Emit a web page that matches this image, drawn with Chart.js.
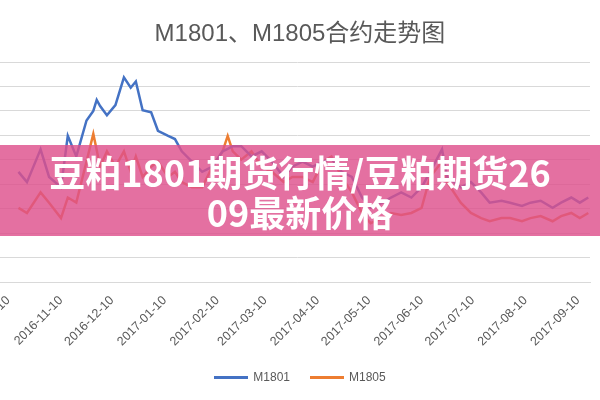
<!DOCTYPE html>
<html><head><meta charset="utf-8">
<script src="https://cdn.jsdelivr.net/npm/chart.js@4"></script>
<style>
body{margin:0;background:#fff;font-family:"Noto Sans CJK SC",sans-serif;overflow:hidden}
#wrap{position:relative;width:600px;height:400px;overflow:hidden}
#c{position:absolute;left:-40px;top:0}
#title{position:absolute;left:0;top:13px;width:600px;text-align:center;color:#595959;font-size:24px;font-family:"Liberation Sans","Noto Sans CJK SC",sans-serif}
#legend{position:absolute;left:0;top:370px;width:600px;text-align:center;color:#595959;font-size:12px;font-family:"Liberation Sans",sans-serif}
#legend span{display:inline-block;margin:0 10px}
#legend i{display:inline-block;width:34px;height:3px;vertical-align:middle;margin-right:5px}
#banner{position:absolute;left:0;top:145px;width:600px;height:91px;background:rgba(222,80,140,0.82);color:#fff;font-weight:bold;font-size:36px;line-height:40px;text-align:center;padding-top:6px;box-sizing:border-box;white-space:nowrap}
</style></head><body>
<div id="wrap"><canvas id="c" width="680" height="400"></canvas>
<div id="title">M1801、M1805合约走势图</div>
<div id="legend"></div>
<div id="banner">豆粕1801期货行情/豆粕期货26<br>09最新价格</div></div>
<script>
// days since 2016-10-10
const days = [6,11,19,24,31,35,40,46,50,52,54,58,63,68,72,75,79,84,88,94,98,102,108,114,120,126,129,132,137,143,149,155,162,167,173,179,185,190,196,202,208,213,220,225,231,237,243,248,255,258,266,272,278,283,290,295,302,307,313,320,325,331,336,341];
const m1801 = [2951,2909,3043,2930,2888,3098,3014,3161,3200,3245,3220,3182,3224,3337,3295,3320,3203,3194,3119,3098,3085,3035,2993,2951,2972,3035,3045,3056,3056,3014,3035,2993,2930,2972,2993,2972,2993,3005,2951,2930,2846,2804,2825,2846,2867,2846,2888,2951,3043,2930,2888,2909,2867,2825,2833,2825,2812,2825,2833,2804,2825,2846,2825,2846];
const m1805 = [2804,2783,2867,2825,2762,2846,2825,2993,3106,3040,2972,3035,2972,3035,2951,3014,2930,2972,2993,2930,2951,2909,2888,2888,2972,3035,3098,3035,3001,3035,2972,2951,2909,2930,2930,2909,2993,3014,2930,2867,2783,2741,2762,2783,2775,2783,2804,2930,2993,2909,2825,2783,2762,2749,2762,2762,2749,2762,2770,2749,2770,2783,2762,2783];
const tickDays = [0,31,61,92,123,151,182,212,243,273,304,335];
const base = new Date(2016,9,10);
function fmt(d){const t=new Date(base.getTime()+d*864e5);const p=n=>String(n).padStart(2,'0');return t.getFullYear()+'-'+p(t.getMonth()+1)+'-'+p(t.getDate());}
const pts = a => days.map((d,i)=>({x:d,y:a[i]}));
const chart = new Chart(document.getElementById('c'),{
  type:'line',
  data:{datasets:[
    {label:'M1801',data:pts(m1801),borderColor:'#4472C4',borderWidth:2.5,pointRadius:0,tension:0},
    {label:'M1805',data:pts(m1805),borderColor:'#ED7D31',borderWidth:2.5,pointRadius:0,tension:0}
  ]},
  options:{responsive:false,animation:false,
    layout:{padding:{left:0,right:50,top:62,bottom:48}},
    plugins:{legend:{display:false}},
    scales:{
      x:{type:'linear',min:-2,max:342,
        afterBuildTicks:ax=>{ax.ticks=tickDays.map(v=>({value:v}));},
        ticks:{callback:v=>fmt(v),maxRotation:45,minRotation:45,color:'#595959',font:{size:12.5}},
        grid:{display:false},border:{color:'#d9d9d9'}},
      y:{min:2500,max:3400,ticks:{stepSize:100,display:false},grid:{color:'#d9d9d9'},border:{display:false}}
    }}
});
document.getElementById('legend').innerHTML = chart.data.datasets.map(d=>'<span><i style="background:'+d.borderColor+'"></i>'+d.label+'</span>').join('');
</script></body></html>
